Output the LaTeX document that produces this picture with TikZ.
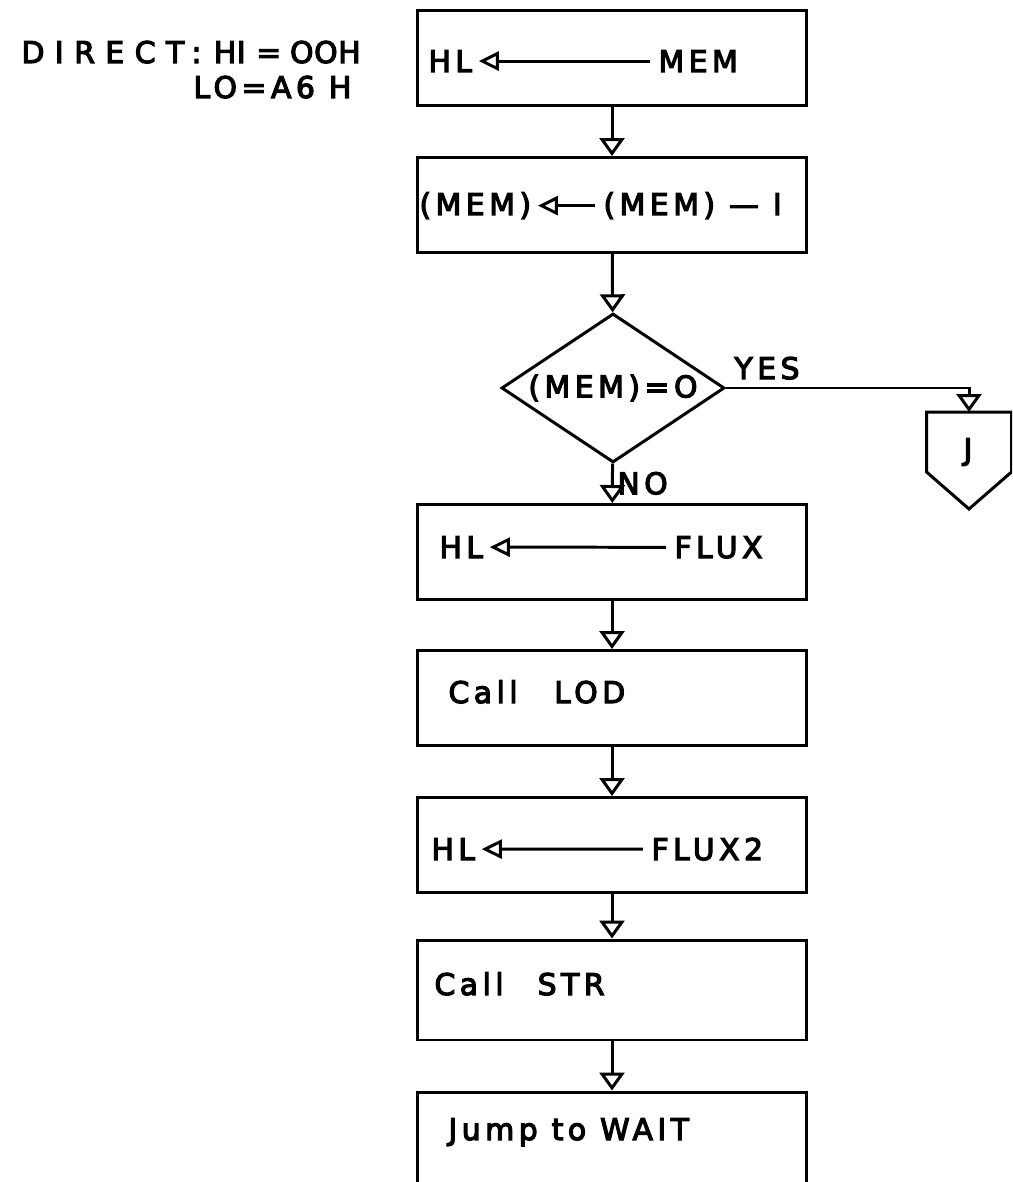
\documentclass[tikz,border=0pt]{standalone}
\usepackage{fontspec}
\setmainfont{DejaVu Sans}[LetterSpace=15, FakeBold=4]
\usetikzlibrary{arrows.meta,shapes.geometric}
\begin{document}
\begin{tikzpicture}[x=0.02cm, y=-0.02cm, line width=1.7pt,
    font=\fontsize{17}{21}\selectfont,
    >={Triangle[open,length=0.36cm,width=0.5cm]},
    box/.style={draw, minimum width=7.8cm, minimum height=1.9cm, inner sep=0pt},
    txt/.style={anchor=base west, inner sep=0pt},
    give/.style={-{Triangle[open,length=0.4cm,width=0.38cm]}, shorten >=3pt, shorten <=4pt}]
  \clip (0,0) rectangle (1012,1182);
  \node[txt] (direct) at (20,63) {{\addfontfeature{LetterSpace=35}DIRECT:}\hspace{7pt}{\addfontfeature{LetterSpace=2}HI\hspace{6pt}=\hspace{5pt}OOH}};
  \node[txt] (lo) at (192,98) {LO=A6 H};
  \node[box] (b1) at (612,58) {};
  \node[box] (b2) at (612,205) {};
  \node[draw, diamond, aspect=1.5, minimum width=4.46cm, minimum height=2.98cm, inner sep=0pt] (d1) at (613,388) {(MEM)=O};
  \node[minimum width=1.64cm, minimum height=1.14cm, inner sep=0pt] (J) at (969,442) {};
  \draw (J.north west) -- (J.north east) -- (J.south east) -- ([yshift=-0.74cm]J.south) -- (J.south west) -- cycle;
  \node (jlbl) at (968,452) {J};
  \node[box] (b3) at (612,552) {};
  \node[box] (b4) at (612,698) {};
  \node[box] (b5) at (612,845) {};
  \node[box, minimum height=2cm] (b6) at (612,990) {};
  \node[box, minimum height=2.4cm] (b7) at (612,1152) {};
  \node[txt] (hl1) at (427,72) {HL};
  \node[txt] (mem1) at (657,72) {MEM};
  \draw[give] (mem1.west) -- (hl1.east);
  \node[txt] (mem2) at (418,215) {(MEM)};
  \node[txt] (dec2) at (602,215) {(MEM) — I};
  \draw[give] (dec2.west) -- (mem2.east);
  \node[txt] (hl3) at (438,558) {HL};
  \node[txt] (flux3) at (673,558) {FLUX};
  \draw[give] (flux3.west) -- (hl3.east);
  \node[txt] (lod) at (447,703) {Call \hspace{0.45cm}LOD};
  \node[txt] (hl5) at (430,860) {HL};
  \node[txt] (flux5) at (650,860) {FLUX2};
  \draw[give] (flux5.west) -- (hl5.east);
  \node[txt] (str) at (433,995) {Call \hspace{0.4cm}STR};
  \node[txt] (wait) at (447,1140) {Jump to WAIT};
  \draw[->] (b1) -- (b2);
  \draw[->] (b2) -- (d1);
  \draw[->] (d1) -- node[right, inner sep=2pt] {NO} (b3);
  \draw[->] (d1.east) -| node[pos=0, anchor=south west, inner sep=4pt] {YES} (J.north);
  \draw[->] (b3) -- (b4);
  \draw[->] (b4) -- (b5);
  \draw[->] (b5) -- (b6);
  \draw[->] (b6) -- (b7);
\end{tikzpicture}
\end{document}
